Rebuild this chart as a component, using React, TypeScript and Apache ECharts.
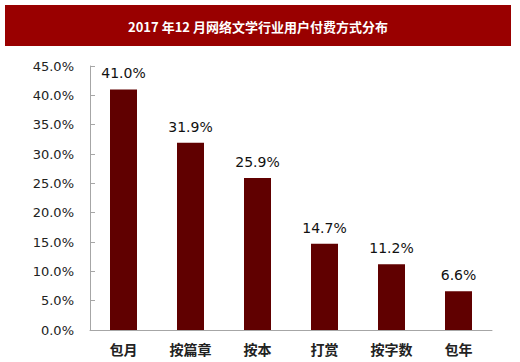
import React, { useEffect, useRef } from "react";
import * as echarts from "echarts";

const titleText = "2017 年12 月网络文学行业用户付费方式分布";
const categories = ["包月", "按篇章", "按本", "打赏", "按字数", "包年"];
const values = [41.0, 31.9, 25.9, 14.7, 11.2, 6.6];

export default function App() {
  const ref = useRef<HTMLDivElement>(null);
  useEffect(() => {
    if (!ref.current) return;
    const chart = echarts.init(ref.current, undefined, { renderer: "svg" });
    chart.setOption({
      animation: false,
      graphic: [
        {
          type: "rect",
          shape: { x: 5, y: 5, width: 506, height: 41 },
          style: { fill: "#990000" },
          z: 0,
        },
        {
          type: "text",
          x: 258,
          y: 26,
          style: {
            text: titleText,
            fill: "#ffffff",
            font: "bold 13px Noto Sans CJK SC, sans-serif",
            textAlign: "center",
            textVerticalAlign: "middle",
          },
          z: 1,
        },
      ],
      grid: { left: 90, right: 28, top: 66, bottom: 32 },
      xAxis: {
        type: "category",
        data: categories,
        axisLine: { lineStyle: { color: "#a6a6a6", width: 1 } },
        axisTick: { inside: true, length: 5, lineStyle: { color: "#a6a6a6" } },
        axisLabel: {
          color: "#222",
          fontSize: 14,
          fontFamily: "Noto Sans CJK SC",
          fontWeight: "bold",
          margin: 12,
        },
      },
      yAxis: {
        type: "value",
        min: 0,
        max: 45,
        interval: 5,
        axisLine: { show: true, lineStyle: { color: "#a6a6a6", width: 1 } },
        axisTick: { show: true, inside: true, length: 5, lineStyle: { color: "#a6a6a6" } },
        splitLine: { show: false },
        axisLabel: {
          color: "#222",
          fontSize: 13,
          fontFamily: "DejaVu Sans",
          margin: 16,
          formatter: (v: number) => v.toFixed(1) + "%",
        },
      },
      series: [
        {
          type: "bar",
          data: values,
          barWidth: 27,
          itemStyle: { color: "#600000" },
          label: {
            show: true,
            position: "top",
            distance: 9,
            color: "#111",
            fontSize: 14,
            fontFamily: "DejaVu Sans",
            formatter: (p: any) => p.value.toFixed(1) + "%",
          },
        },
      ],
    });
    return () => chart.dispose();
  }, []);
  return <div ref={ref} style={{ width: 520, height: 362, position: "absolute", left: 0, top: 0 }} />;
}
